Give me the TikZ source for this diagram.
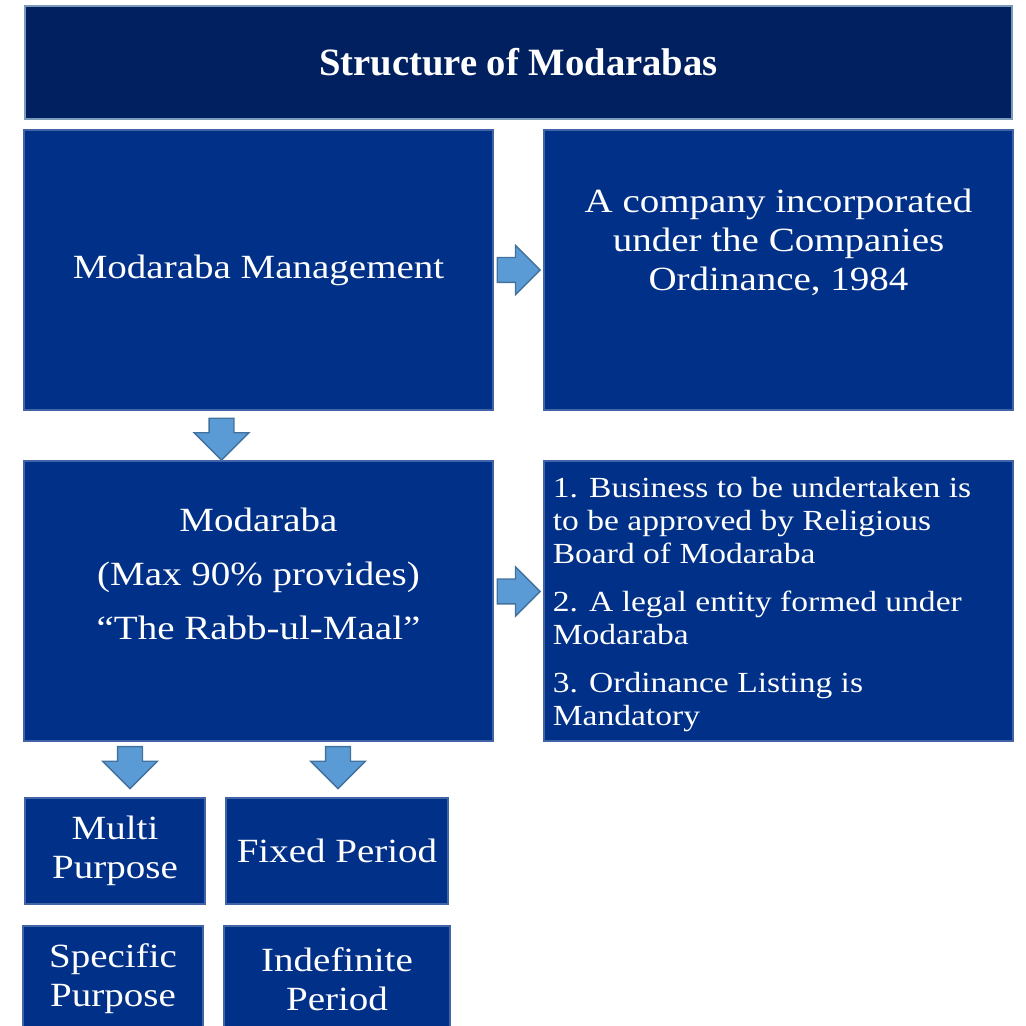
\documentclass[tikz,border=0pt]{standalone}
\usepackage{fontspec}
\setmainfont{Liberation Serif}[FakeStretch=1.15]
\newfontfamily\titlefont{Liberation Serif}
\usetikzlibrary{shapes.arrows,calc}
\definecolor{navy}{HTML}{002060}
\definecolor{boxblue}{HTML}{003087}
\definecolor{arrowfill}{HTML}{5B9BD5}
\definecolor{arrowline}{HTML}{41719C}
\begin{document}
\begin{tikzpicture}[
        box/.style={fill=boxblue,draw=boxblue!75!white,line width=0.6pt,inner sep=0pt,text=white,align=center,
            font=\fontsize{19.3}{22.2}\selectfont},
        bigbox/.style={box,minimum width=9.38cm,minimum height=5.6cm},
        boxtext/.style={text=white,align=center,inner sep=0pt,font=\fontsize{19.3}{22.2}\selectfont},
        blockarrow/.style={single arrow,fill=arrowfill,draw=arrowline,line width=0.8pt,inner xsep=0pt,inner ysep=0.235cm,
            minimum height=0.86cm,minimum width=0.96cm,single arrow head extend=0.245cm},
        downarrow/.style={rotate=-90,minimum height=0.84cm,minimum width=1.08cm,single arrow head extend=0.3cm}]
        \useasboundingbox (0,0) rectangle (20.52,20.52);
        %% title
        \node[box,fill=navy,draw=arrowline!70!white,line width=1.2pt,minimum width=19.74cm,minimum height=2.26cm,
            font=\titlefont\bfseries\fontsize{22}{26}\selectfont] (title) at (10.37,19.27) {Structure of Modarabas};
        %% main boxes
        \node[bigbox] (mgmt) at (5.17,15.12) {Modaraba Management};
        \node[bigbox] (company) at (15.57,15.12) {};
        \node[bigbox] (modaraba) at (5.17,8.5) {};
        \node[bigbox] (rules) at (15.57,8.5) {};
        \node[boxtext] (companytext) at ($(company.center)+(0,0.56)$)
            {A company incorporated\\under the Companies\\Ordinance, 1984};
        \node[boxtext,font=\fontsize{19.3}{30.7}\selectfont] (modarabatext) at ($(modaraba.center)+(0,0.54)$)
            {Modaraba\\(Max 90\% provides)\\``The Rabb-ul-Maal''};
        \node[boxtext,align=left,anchor=north west,font=\fontsize{16.6}{18.8}\selectfont] (rulestext)
            at ($(rules.north west)+(0.18,-0.32)$)
            {1. Business to be undertaken is\\to be approved by Religious\\Board of Modaraba\\[8.5pt]
             2. A legal entity formed under\\Modaraba\\[8.5pt]
             3. Ordinance Listing is\\Mandatory};
        %% kinds
        \foreach \n/\x/\y/\w/\t in {multi/2.3/3.5/3.6/{Multi\\Purpose},fixed/6.74/3.5/4.44/{Fixed Period},
                specific/2.26/0.94/3.6/{Specific\\Purpose},indefinite/6.74/0.94/4.52/{Indefinite\\Period}}
            \node[box,minimum width=\w cm,minimum height=2.12cm] (\n) at (\x,\y) {\t};
        %% arrows
        \node[blockarrow] (arrmgmt) at ($(mgmt.east)!0.5!(company.west)+(-0.12,0)$) {};
        \node[blockarrow] (arrmodaraba) at ($(modaraba.east)!0.5!(rules.west)+(-0.12,0.19)$) {};
        \node[blockarrow,downarrow] (arrdown) at ($(mgmt.south)!0.5!(modaraba.north)+(-0.74,0.05)$) {};
        \node[blockarrow,downarrow] (arrmulti) at ($(multi.north)+(0.3,0.72)$) {};
        \node[blockarrow,downarrow] (arrfixed) at ($(fixed.north)+(0.02,0.72)$) {};
    \end{tikzpicture}
\end{document}
